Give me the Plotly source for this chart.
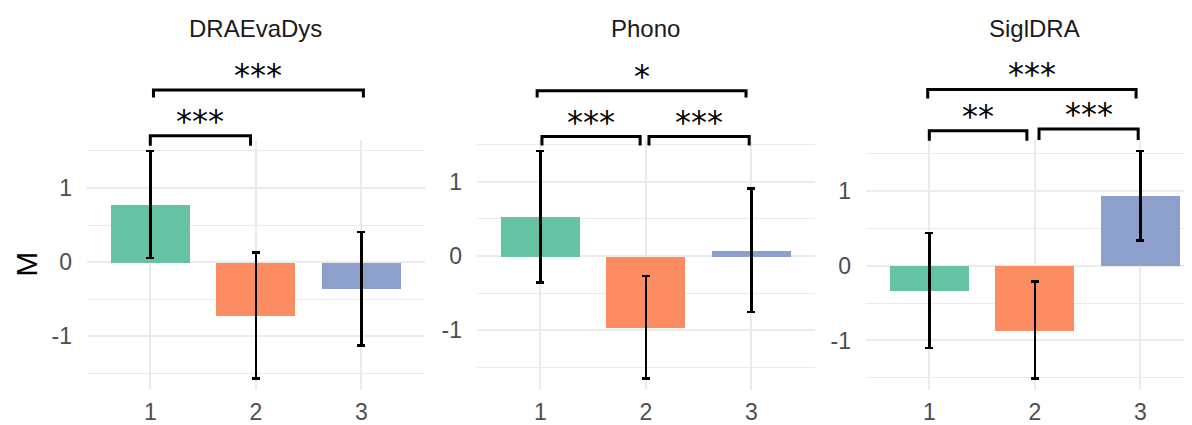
import plotly.graph_objects as go

# ---------------- data ----------------
panels = ["DRAEvaDys", "Phono", "SiglDRA"]
groups = [1, 2, 3]
colors = ["#66C2A5", "#FC8D62", "#8DA0CB"]

mean_draevadys = [0.78, -0.72, -0.36]
sd_draevadys = [0.72, 0.85, 0.765]
mean_phono = [0.53, -0.96, 0.078]
sd_phono = [0.885, 0.69, 0.83]
mean_sigldra = [-0.33, -0.86, 0.935]
sd_sigldra = [0.77, 0.65, 0.60]

# significance brackets: x start, x end, bar height, tip bottom, label
br_draevadys_x0 = [1.03, 1.00]
br_draevadys_x1 = [3.02, 1.95]
br_draevadys_y = [2.32, 1.705]
br_draevadys_tip = [2.22, 1.57]
br_draevadys_lab = ["***", "***"]

br_phono_x0 = [0.97, 1.016, 2.03]
br_phono_x1 = [2.95, 1.946, 2.98]
br_phono_y = [2.224, 1.607, 1.607]
br_phono_tip = [2.134, 1.487, 1.487]
br_phono_lab = ["*", "***", "***"]

br_sigldra_x0 = [0.985, 1.00, 2.04]
br_sigldra_x1 = [2.96, 1.925, 2.98]
br_sigldra_y = [2.356, 1.804, 1.827]
br_sigldra_tip = [2.236, 1.671, 1.68]
br_sigldra_lab = ["***", "**", "***"]

means = [mean_draevadys, mean_phono, mean_sigldra]
sds = [sd_draevadys, sd_phono, sd_sigldra]
brackets = [
    (br_draevadys_x0, br_draevadys_x1, br_draevadys_y, br_draevadys_tip, br_draevadys_lab),
    (br_phono_x0, br_phono_x1, br_phono_y, br_phono_tip, br_phono_lab),
    (br_sigldra_x0, br_sigldra_x1, br_sigldra_y, br_sigldra_tip, br_sigldra_lab),
]

# ---------------- layout geometry ----------------
OFF = 8                      # default body margin of the html page
W, H = 1192 - OFF, 425 - OFF
panel_left_px = [87 - OFF, 477 - OFF, 866 - OFF]
cat_px = 105.5
panel_top_px, panel_bot_px = 139.5 - OFF, 390 - OFF
ydom = [1 - panel_bot_px / H, 1 - panel_top_px / H]

fig = go.Figure()
shapes = []
annotations = []
GRID = "#EBEBEB"
TICK = "#4D4D4D"
FONT = "Liberation Sans, Arial, sans-serif"

for i, name in enumerate(panels):
    ax = "" if i == 0 else str(i + 1)
    xa, ya = "x" + ax, "y" + ax
    m, s = means[i], sds[i]
    lo = min(a - b for a, b in zip(m, s))
    hi = max(a + b for a, b in zip(m, s))
    pad = (hi - lo) * 0.05
    yr = [lo - pad, hi + pad]
    left = panel_left_px[i]
    right = min(left + 3.2 * cat_px, W)
    xr = [0.4, 0.4 + (right - left) / cat_px]

    fig.add_trace(go.Bar(
        x=groups, y=m, width=0.75,
        marker=dict(color=colors, line=dict(width=0)),
        error_y=dict(type="data", array=s, visible=True, color="black",
                     thickness=2.4, width=4),
        xaxis=xa, yaxis=ya, showlegend=False,
    ))

    fig.update_layout({
        ("xaxis" + ax): dict(
            domain=[left / W, right / W], range=xr, anchor=ya,
            tickvals=groups, ticktext=[str(g) for g in groups],
            showgrid=True, gridcolor=GRID, gridwidth=2, zeroline=False,
            showline=False, ticks="", ticklabelstandoff=6, automargin=False,
            tickfont=dict(family=FONT, size=23, color=TICK),
        ),
        ("yaxis" + ax): dict(
            domain=ydom, range=yr, anchor=xa,
            tickvals=[-1, 0, 1], ticktext=["-1", "0", "1"],
            showgrid=True, gridcolor=GRID, gridwidth=2, zeroline=False,
            showline=False, ticks="", ticklabelstandoff=14, automargin=False,
            tickfont=dict(family=FONT, size=23, color=TICK),
            minor=dict(tickvals=[-1.5, -0.5, 0.5, 1.5], showgrid=True,
                       gridcolor=GRID, gridwidth=1.2, ticks=""),
        ),
    })

    def fx(v):
        return (v - xr[0]) / (xr[1] - xr[0])

    def fy(v):
        return (v - yr[0]) / (yr[1] - yr[0])

    bx0, bx1, by, btip, blab = brackets[i]
    for x0, x1, y, t, lab in zip(bx0, bx1, by, btip, blab):
        shapes.append(dict(
            type="path", xref=xa + " domain", yref=ya + " domain",
            path=f"M {fx(x0)},{fy(t)} L {fx(x0)},{fy(y)} L {fx(x1)},{fy(y)} L {fx(x1)},{fy(t)}",
            line=dict(color="black", width=3),
        ))
        annotations.append(dict(
            xref=xa + " domain", yref=ya + " domain",
            x=fx((x0 + x1) / 2), y=fy(y), yanchor="bottom", xanchor="center",
            text=lab, showarrow=False, yshift=-6,
            font=dict(family="DejaVu Sans", size=32, color="black"),
        ))

    annotations.append(dict(
        xref=xa, yref="paper", x=2, y=1 - (28 - OFF) / H, yanchor="middle",
        text=name, showarrow=False,
        font=dict(family=FONT, size=24, color="#1A1A1A"),
    ))

annotations.append(dict(
    xref="paper", yref="paper", x=(27 - OFF) / W, y=(ydom[0] + ydom[1]) / 2,
    text="M", textangle=-90, showarrow=False, xanchor="center", yanchor="middle",
    font=dict(family=FONT, size=30, color="black"),
))

fig.update_layout(
    width=W, height=H, margin=dict(l=0, r=0, t=0, b=0, autoexpand=False),
    paper_bgcolor="white", plot_bgcolor="white",
    shapes=shapes, annotations=annotations, bargap=0,
)

fig.write_html("out.html")
